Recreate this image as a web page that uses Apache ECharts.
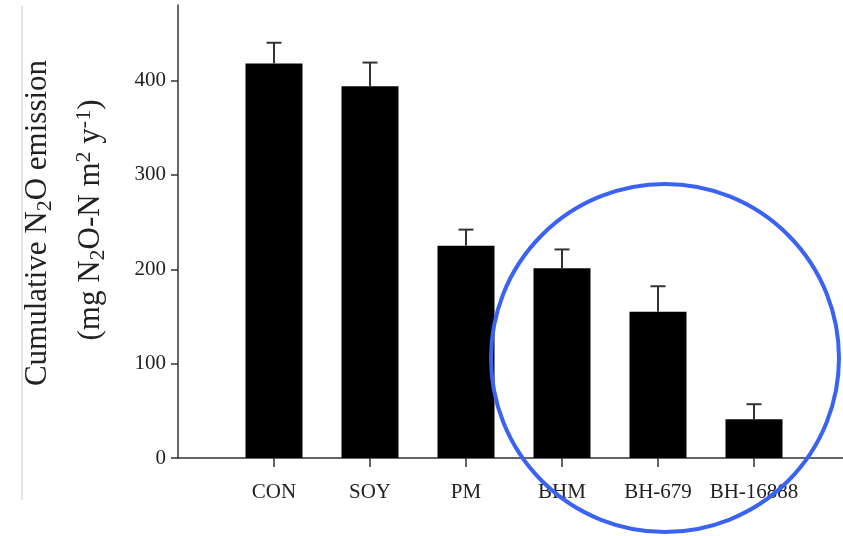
<!DOCTYPE html>
<html><head><meta charset="utf-8">
<script src="https://cdn.jsdelivr.net/npm/echarts@6/dist/echarts.min.js"></script>
<style>html,body{margin:0;padding:0;background:#fff}#c{width:843px;height:536px}</style>
</head><body><div id="c"></div>
<script>
const categories = ['CON','SOY','PM','BHM','BH-679','BH-16888'];
const means = [418, 394, 225, 201, 155, 41];
const errors = [22, 25, 17, 20, 27, 16];
const yTicks = [0, 100, 200, 300, 400];

const positions = categories.map((c, i) => i + 1);
const barData = categories.map((c, i) => [positions[i], means[i]]);
const errData = categories.map((c, i) => [positions[i], means[i], means[i] + errors[i]]);
const serif = '"Liberation Serif","Times New Roman",serif';

const chart = echarts.init(document.getElementById('c'));
chart.setOption({
  animation: false,
  grid: {left: 178, right: 0, top: 5, bottom: 78, containLabel: false},
  xAxis: {
    type: 'value', min: 0, max: 6.927,
    splitLine: {show: false},
    axisLine: {lineStyle: {color: '#333', width: 1.5}},
    axisTick: {show: true, length: 9, customValues: positions, lineStyle: {color: '#333', width: 1.5}},
    axisLabel: {customValues: positions, margin: 24, color: '#222', fontFamily: serif, fontSize: 21,
      formatter: v => categories[Math.round(v) - 1] || ''}
  },
  yAxis: {
    type: 'value', min: 0, max: 480, interval: 100,
    splitLine: {show: false},
    axisLine: {show: true, lineStyle: {color: '#333', width: 1.5}},
    axisTick: {show: true, length: 7, customValues: yTicks, lineStyle: {color: '#333', width: 1.5}},
    axisLabel: {customValues: yTicks, margin: 12, color: '#222', fontFamily: serif, fontSize: 21}
  },
  series: [
    {type: 'bar', data: barData, barWidth: 57, itemStyle: {color: '#000'}, z: 2},
    {type: 'custom', data: errData, z: 3,
      renderItem: function (params, api) {
        const x = api.value(0);
        const top = api.coord([x, api.value(2)]);
        const base = api.coord([x, api.value(1)]);
        const hw = 7.5;
        const st = {stroke: '#333', lineWidth: 2};
        return {type: 'group', children: [
          {type: 'line', shape: {x1: top[0], y1: base[1], x2: top[0], y2: top[1]}, style: st},
          {type: 'line', shape: {x1: top[0] - hw, y1: top[1], x2: top[0] + hw, y2: top[1]}, style: st}
        ]};
      }
    }
  ],
  graphic: [
    {type: 'line', shape: {x1: 22, y1: 6, x2: 22, y2: 500}, style: {stroke: '#cccccc', lineWidth: 1}},
    {type: 'text', x: 38, y: 223, rotation: Math.PI / 2,
      style: {text: 'Cumulative N{sub|2}O emission', align: 'center', verticalAlign: 'middle',
        fill: '#222', font: '31px ' + serif, lineHeight: 36,
        rich: {sub: {fontSize: 22, lineHeight: 12, verticalAlign: 'bottom', fontFamily: serif, fill: '#222'}}}},
    {type: 'text', x: 91, y: 220, rotation: Math.PI / 2,
      style: {text: '(mg N{sub|2}O-N m{sup|2} y{sup|-1})', align: 'center', verticalAlign: 'middle',
        fill: '#222', font: '31px ' + serif, lineHeight: 36,
        rich: {sub: {fontSize: 22, lineHeight: 12, verticalAlign: 'bottom', fontFamily: serif, fill: '#222'},
               sup: {fontSize: 22, lineHeight: 12, verticalAlign: 'top', fontFamily: serif, fill: '#222'}}}},
    {type: 'circle', shape: {cx: 665, cy: 358, r: 174}, style: {fill: 'none', stroke: '#3a63f4', lineWidth: 4}, z: 100}
  ]
});
</script></body></html>
